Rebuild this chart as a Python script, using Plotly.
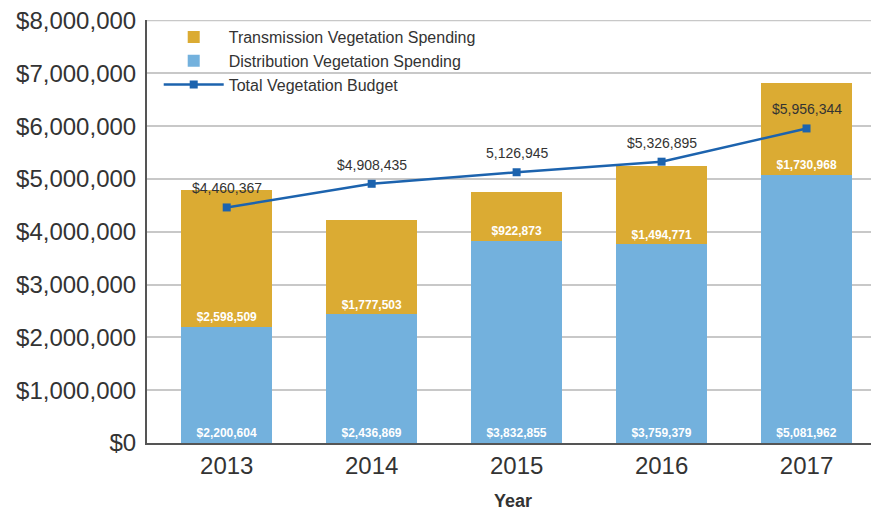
import plotly.graph_objects as go

years = ["2013", "2014", "2015", "2016", "2017"]
distribution = [2200604, 2436869, 3832855, 3759379, 5081962]
transmission = [2598509, 1777503, 922873, 1494771, 1730968]
total_budget = [4460367, 4908435, 5126945, 5326895, 5956344]
total_labels = ["$4,460,367", "$4,908,435", "5,126,945", "$5,326,895", "$5,956,344"]
y_max = 8000000

gold = "#dbab33"
blue = "#73b1dd"
line_blue = "#1c63ae"
font_family = "Liberation Sans, Arial, sans-serif"

fig = go.Figure()
fig.add_trace(go.Bar(
    x=years, y=distribution, name="Distribution Vegetation Spending",
    marker=dict(color=blue, line=dict(width=0)),
    text=["${:,}".format(v) for v in distribution],
    textposition="inside", insidetextanchor="start",
    textfont=dict(color="white", size=12, family=font_family, weight="bold"),
    legendrank=2,
))
fig.add_trace(go.Bar(
    x=years, y=transmission, name="Transmission Vegetation Spending",
    marker=dict(color=gold, line=dict(width=0)),
    text=["${:,}".format(v) for v in transmission],
    textposition="inside", insidetextanchor="start",
    textfont=dict(color="white", size=13, family=font_family, weight="bold"),
    legendrank=1,
))
fig.add_trace(go.Scatter(
    x=years, y=total_budget, name="Total Vegetation Budget",
    mode="lines+markers",
    line=dict(color=line_blue, width=2.5),
    marker=dict(symbol="square", size=8, color=line_blue),
    legendrank=3,
))

for i, (val, lab) in enumerate(zip(total_budget, total_labels)):
    fig.add_annotation(
        x=i, y=val, xref="x", yref="y", text=lab, showarrow=False, yshift=19,
        font=dict(color="#333333", size=14, family=font_family),
    )

# top gridline at the range edge
fig.add_shape(type="line", xref="paper", yref="y", x0=0, x1=1, y0=y_max, y1=y_max,
              line=dict(color="#c8c8c8", width=1.5), layer="below")

fig.update_layout(
    width=871, height=509,
    margin=dict(l=139, r=0, t=12, b=74, autoexpand=False),
    barmode="stack", bargap=0.37,
    plot_bgcolor="white", paper_bgcolor="white",
    font=dict(family=font_family, color="#333333"),
    showlegend=True,
    legend=dict(
        x=0.016, y=1.0, xanchor="left", yanchor="top",
        bgcolor="rgba(0,0,0,0)", font=dict(size=16, color="#333333"),
        itemwidth=60, tracegroupgap=0, traceorder="normal",
    ),
    uniformtext=dict(mode="show", minsize=8),
)
fig.update_xaxes(
    type="category", range=[-0.55, 4.5], automargin=False,
    showline=True, linecolor="#555555", linewidth=2,
    tickfont=dict(size=24, color="#333333"),
    ticks="", showgrid=False,
    title=dict(text="<b>Year</b>", font=dict(size=18, color="#333333"), standoff=17),
)
fig.update_yaxes(
    range=[0, y_max + 10000], dtick=1000000, automargin=False,
    tickprefix="$", tickformat=",",
    showline=True, linecolor="#555555", linewidth=2,
    showgrid=True, gridcolor="#c8c8c8", gridwidth=1.5,
    tickfont=dict(size=24, color="#333333"),
    ticks="", ticklen=0, zeroline=False, ticklabelstandoff=4,
    ticklabeloverflow="allow",
)

fig.write_html("out.html")
